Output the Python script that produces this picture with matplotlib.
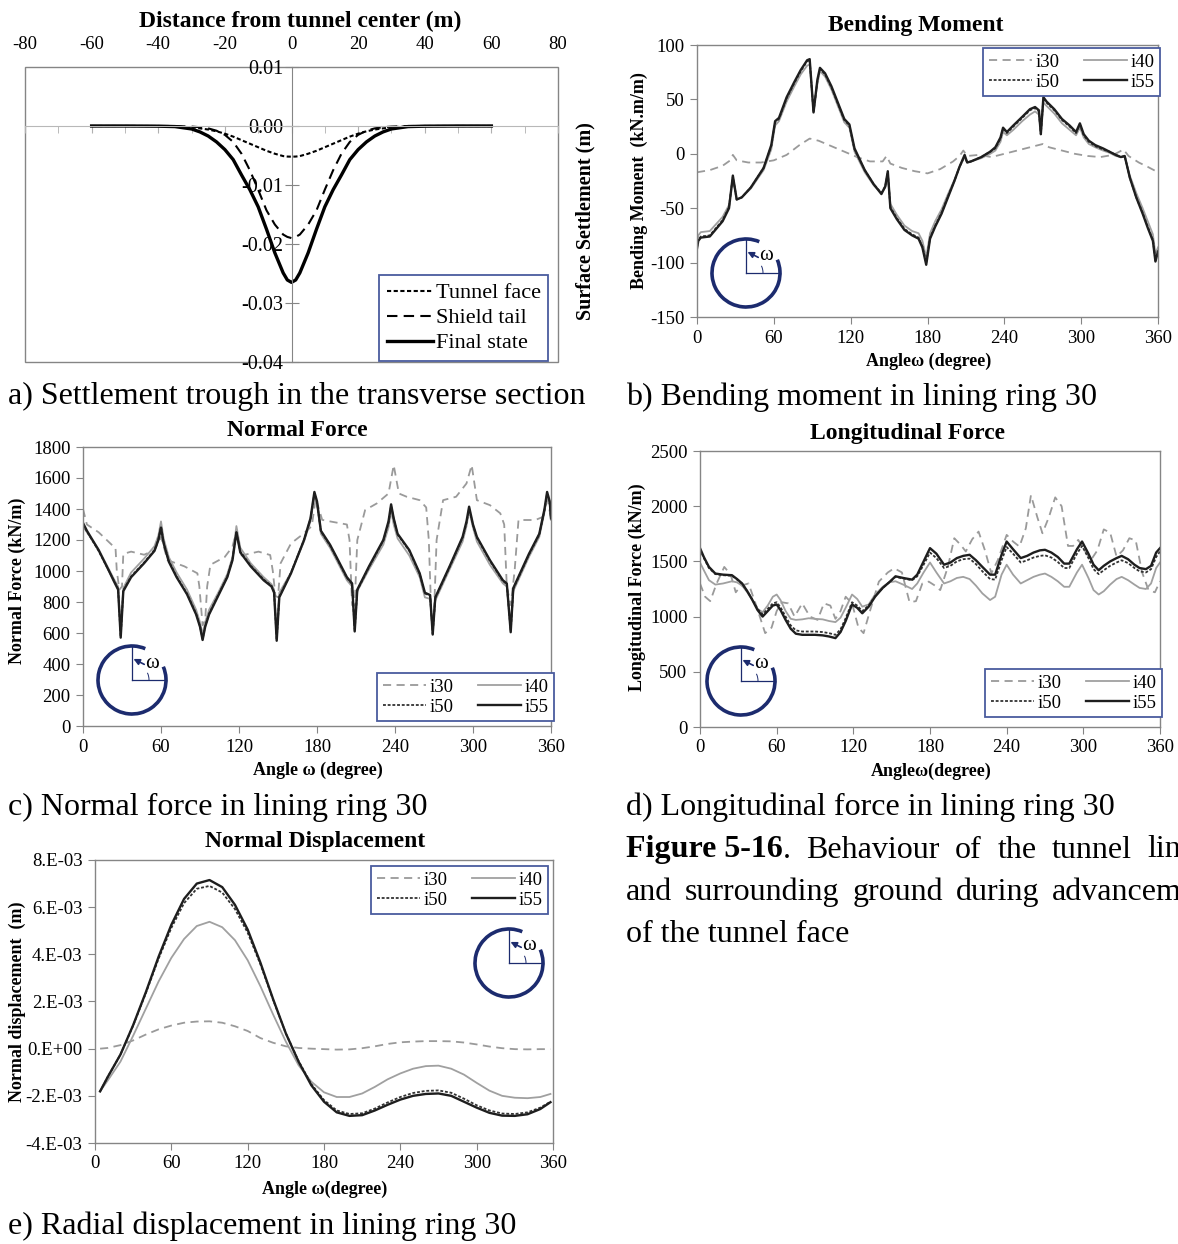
import matplotlib
matplotlib.use('Agg')
import matplotlib.pyplot as plt
from matplotlib.patches import Arc, Rectangle

plt.rcParams['font.family'] = ['Liberation Serif', 'DejaVu Serif']
plt.rcParams['axes.unicode_minus'] = False

# ---------------- data ----------------
# a) settlement trough
dist = [-60, -50, -40, -35, -30, -27.5, -25, -22.5, -20, -17.5, -15, -12.5, -10, -7.5, -5, -2.5, -1.25, 0,
        1.25, 2.5, 5, 7.5, 10, 12.5, 15, 17.5, 20, 22.5, 25, 27.5, 30, 35, 40, 50, 60]
tunnel_face = [0, 0, 0, -0.0001, -0.0002, -0.0004, -0.0006, -0.0009, -0.0013, -0.0018, -0.0024, -0.0030,
               -0.0036, -0.0042, -0.0047, -0.0051, -0.00518, -0.0052, -0.00518, -0.0051, -0.0047, -0.0042,
               -0.0036, -0.0030, -0.0024, -0.0018, -0.0013, -0.0009, -0.0006, -0.0004, -0.0002, -0.0001,
               0, 0, 0]
shield_tail = [0, 0, 0, 0, -0.0001, -0.0002, -0.0004, -0.0008, -0.0015, -0.0027, -0.0047, -0.0075,
               -0.0108, -0.0143, -0.0167, -0.0184, -0.0188, -0.0190, -0.0188, -0.0184, -0.0167, -0.0143,
               -0.0108, -0.0075, -0.0047, -0.0027, -0.0015, -0.0008, -0.0004, -0.0002, -0.0001, 0, 0, 0, 0]
final_state = [0, 0, -0.00003, -0.0001, -0.0005, -0.0010, -0.0017, -0.0027, -0.0040, -0.0057, -0.0083,
               -0.0108, -0.0137, -0.0175, -0.0215, -0.0249, -0.0261, -0.0265, -0.0261, -0.0249, -0.0215,
               -0.0175, -0.0137, -0.0108, -0.0083, -0.0057, -0.0040, -0.0027, -0.0017, -0.0010, -0.0005,
               -0.0001, -0.00003, 0, 0]

# b) bending moment
ang_b = [0, 1, 3, 10, 20, 25, 28, 31, 35, 42, 52, 58, 61, 64, 70, 76, 81, 86, 88, 91, 94, 96, 100, 105,
         110, 115, 119, 123, 131, 138, 144, 147, 149, 151, 156, 162, 168, 173, 176, 179, 182, 186, 191,
         196, 201, 205, 209, 211, 214, 222, 229, 233, 237, 239, 242, 247, 254, 260, 264, 267, 268.5,
         270.5, 273, 279, 285, 291, 296, 299, 302, 306, 311, 317, 322, 327, 331, 334, 338, 343, 348,
         352, 356, 358, 360]
bm_i55 = [-87, -80, -77, -76, -62, -50, -20, -42, -40, -31, -13, 8, 30, 33, 52, 66, 77, 86, 87, 38, 68,
          79, 74, 62, 47, 32, 27, 5, -15, -28, -37, -30, -16, -50, -60, -70, -75, -78, -86, -102, -78,
          -67, -55, -40, -25, -12, -1, -8, -7, -3, 2, 6, 15, 24, 20, 26, 34, 41, 43, 40, 18, 52, 48, 41,
          32, 26, 20, 28, 18, 12, 8, 5, 2, -1, -3, -2, -22, -40, -55, -68, -80, -99, -90]
bm_i50 = [-86, -79, -76, -75, -61, -49, -21, -42, -40, -31, -13, 7, 29, 32, 51, 65, 76, 85, 86, 38, 67,
          78, 73, 61, 46, 31, 26, 4, -15, -28, -36, -30, -17, -49, -59, -69, -74, -77, -85, -100, -77,
          -66, -54, -39, -25, -12, -2, -8, -7, -3, 2, 5, 14, 23, 19, 25, 33, 40, 42, 39, 18, 51, 47, 40,
          31, 25, 19, 27, 17, 11, 7, 4, 2, -1, -3, -2, -22, -40, -54, -67, -79, -98, -89]
bm_i40 = [-82, -75, -72, -71, -58, -47, -22, -42, -40, -32, -15, 4, 26, 30, 48, 62, 73, 81, 82, 40, 64,
          76, 71, 59, 44, 29, 24, 2, -17, -29, -36, -31, -19, -46, -56, -66, -71, -73, -80, -95, -73,
          -62, -51, -37, -24, -12, -3, -8, -7, -4, 0, 3, 11, 20, 17, 22, 30, 36, 39, 36, 20, 47, 44, 37,
          28, 22, 17, 24, 15, 9, 6, 3, 1, -2, -3, -3, -20, -36, -50, -62, -74, -92, -86]
ang_b30 = [0, 10, 20, 26, 28, 31, 40, 50, 60, 70, 80, 88, 95, 105, 115, 125, 135, 145, 148, 151, 160,
           170, 180, 190, 200, 205, 208, 211, 220, 230, 240, 250, 260, 270, 275, 285, 295, 305, 315,
           325, 330, 333, 337, 345, 352, 360]
bm_i30 = [-17, -15, -11, -6, -1, -6, -8, -8, -6, -1, 8, 14, 12, 7, 2, -3, -7, -7, -2, -9, -13, -16, -18,
          -14, -7, -2, 3, -2, -1, -3, 0, 3, 6, 9, 6, 3, 0, -2, -3, -1, 2, 4, -2, -8, -12, -17]

# c) normal force
ang_c = [0, 3, 12, 20, 24, 27, 29, 31, 37, 47, 55, 58, 60, 62, 66, 72, 80, 87, 90, 92, 94, 97, 104,
         111, 115, 118, 121, 129, 139, 145, 147, 149, 151, 160, 170, 175, 178, 180, 183, 190, 195, 203,
         207, 209, 211, 220, 231, 235, 237, 239, 242, 251, 259, 263, 267, 269, 271, 282, 292, 295, 297,
         300, 303, 313, 323, 326, 329, 331, 343, 351, 355, 357, 359, 360]
nf_i55 = [1310, 1260, 1135, 1000, 930, 880, 570, 870, 960, 1050, 1130, 1200, 1280, 1180, 1060, 960, 850,
          720, 640, 555, 640, 720, 840, 960, 1070, 1250, 1120, 1030, 940, 900, 860, 550, 830, 985, 1200,
          1340, 1510, 1450, 1260, 1170, 1090, 960, 920, 610, 880, 1030, 1200, 1320, 1430, 1340, 1240,
          1135, 985, 860, 845, 590, 830, 1030, 1220, 1320, 1415, 1300, 1220, 1070, 940, 920, 605, 890,
          1110, 1240, 1400, 1510, 1450, 1340]
nf_i50 = [1300, 1255, 1130, 1000, 935, 885, 575, 875, 965, 1055, 1135, 1205, 1285, 1185, 1065, 965, 855,
          725, 645, 560, 645, 725, 845, 965, 1075, 1255, 1125, 1035, 945, 905, 865, 555, 835, 990, 1200,
          1335, 1500, 1445, 1255, 1165, 1085, 955, 915, 615, 875, 1025, 1195, 1310, 1420, 1335, 1235,
          1130, 980, 855, 840, 595, 825, 1025, 1215, 1310, 1405, 1295, 1215, 1065, 935, 915, 610, 885,
          1105, 1235, 1390, 1500, 1445, 1335]
nf_i40 = [1290, 1250, 1140, 1010, 945, 900, 620, 890, 990, 1080, 1160, 1230, 1320, 1210, 1090, 990, 880,
          750, 670, 590, 670, 750, 860, 980, 1090, 1290, 1150, 1050, 960, 915, 880, 600, 860, 990, 1190,
          1320, 1480, 1430, 1240, 1150, 1070, 940, 900, 650, 870, 1010, 1170, 1280, 1390, 1300, 1210,
          1100, 960, 830, 820, 620, 810, 1010, 1190, 1290, 1390, 1280, 1190, 1040, 920, 900, 640, 870,
          1090, 1220, 1380, 1490, 1440, 1330]
ang_c30 = [0, 3, 12, 22, 25, 26, 28, 30, 31, 37, 47, 55, 60, 65, 78, 88, 89.5, 92, 94, 95.5, 98, 109,
           115, 118, 122, 135, 144, 146, 148, 150, 152, 160, 170, 176, 179, 184, 190, 203, 205, 207, 209,
           211, 217, 226, 235, 239, 243, 249, 259, 264, 266, 268, 270, 272, 277, 287, 295, 299, 303, 313,
           321, 324, 326, 329, 332, 335, 348, 354, 357, 360]
nf_i30 = [1400, 1300, 1250, 1170, 1150, 1000, 880, 900, 1110, 1125, 1105, 1135, 1220, 1070, 1030, 985,
          900, 650, 680, 900, 1040, 1090, 1157, 1260, 1100, 1125, 1103, 1000, 840, 830, 1050, 1178, 1243,
          1290, 1470, 1330, 1320, 1300, 1200, 780, 780, 1200, 1393, 1436, 1500, 1683, 1500, 1479, 1457,
          1410, 1200, 700, 720, 1200, 1457, 1479, 1565, 1683, 1457, 1425, 1372, 1300, 900, 780, 1000,
          1329, 1329, 1350, 1480, 1340]

# d) longitudinal force
ang_d = [0, 3, 7, 12, 18, 25, 29, 33, 37, 41, 45, 49, 53, 57, 60, 63, 67, 71, 75, 80, 85, 90, 96, 101,
         106, 110, 114, 119, 123, 127, 132, 137, 143, 148, 153, 159, 166, 170, 175, 180, 185, 191, 196,
         201, 206, 211, 216, 221, 227, 231, 236, 240, 245, 251, 256, 261, 266, 270, 275, 280, 285, 289,
         295, 299, 304, 308, 312, 316, 321, 326, 330, 335, 340, 344, 349, 353, 357, 360]
lf_i55 = [1620, 1540, 1450, 1390, 1380, 1375, 1340, 1300, 1230, 1150, 1060, 1000, 1050, 1100, 1110,
          1060, 970, 890, 845, 835, 835, 835, 830, 820, 805, 860, 960, 1110, 1080, 1030, 1090, 1180,
          1260, 1310, 1365, 1350, 1335, 1380, 1500, 1620, 1570, 1470, 1490, 1530, 1550, 1560, 1510,
          1450, 1380, 1380, 1560, 1680, 1610, 1530, 1550, 1580, 1600, 1605, 1580, 1540, 1480, 1480,
          1610, 1680, 1570, 1470, 1420, 1460, 1500, 1530, 1550, 1520, 1470, 1440, 1430, 1460, 1580, 1620]
lf_i50 = [1610, 1530, 1440, 1385, 1375, 1370, 1335, 1295, 1230, 1155, 1070, 1020, 1070, 1120, 1130,
          1085, 1000, 920, 875, 865, 865, 865, 860, 850, 835, 885, 985, 1130, 1100, 1050, 1100, 1185,
          1260, 1310, 1360, 1345, 1330, 1365, 1470, 1580, 1530, 1440, 1460, 1500, 1520, 1525, 1475,
          1410, 1340, 1335, 1510, 1630, 1570, 1490, 1510, 1535, 1550, 1555, 1535, 1495, 1440, 1440,
          1570, 1640, 1530, 1430, 1385, 1420, 1460, 1490, 1510, 1485, 1440, 1410, 1400, 1430, 1540, 1590]
lf_i40 = [1490, 1420, 1330, 1290, 1300, 1320, 1310, 1280, 1220, 1150, 1070, 1040, 1100, 1180, 1200,
          1150, 1050, 980, 970, 975, 985, 980, 975, 960, 950, 990, 1080, 1200, 1160, 1090, 1110, 1200,
          1270, 1310, 1320, 1290, 1250, 1300, 1400, 1490, 1400, 1300, 1320, 1350, 1360, 1340, 1280,
          1210, 1150, 1180, 1380, 1470, 1380, 1300, 1330, 1360, 1380, 1390, 1360, 1320, 1270, 1270,
          1400, 1470, 1350, 1240, 1200, 1230, 1290, 1340, 1360, 1330, 1290, 1260, 1250, 1300, 1440, 1490]
ang_d30 = [0, 4, 8, 13, 19, 24, 28, 32, 38, 44, 51, 56, 60, 64, 69, 74, 80, 86, 92, 97, 102, 106, 110,
           114, 119, 124, 128, 133, 140, 147, 152, 158, 164, 169, 174, 179, 184, 188, 194, 199, 204, 208,
           213, 218, 223, 228, 233, 240, 245, 250, 255, 259, 264, 268, 273, 278, 283, 288, 292, 296, 301,
           306, 311, 316, 321, 326, 331, 336, 341, 346, 351, 356, 360]
lf_i30 = [1300, 1180, 1140, 1300, 1450, 1380, 1220, 1280, 1300, 1100, 850, 900, 1050, 1130, 1120, 1000,
          1120, 1000, 970, 1120, 1100, 980, 1050, 1180, 1120, 900, 850, 1050, 1317, 1400, 1438, 1400,
          1130, 1140, 1300, 1317, 1280, 1240, 1450, 1710, 1650, 1590, 1700, 1770, 1600, 1393, 1510,
          1740, 1680, 1634, 1800, 2100, 1900, 1755, 1900, 2080, 2000, 1640, 1640, 1695, 1600, 1514,
          1600, 1790, 1760, 1544, 1600, 1710, 1690, 1400, 1240, 1220, 1320]

# e) normal displacement, in units of 1e-3 m
ang_e = [4, 10, 20, 30, 40, 50, 60, 70, 80, 90, 100, 110, 120, 130, 140, 150, 160, 170, 180, 190, 200,
         210, 220, 230, 240, 250, 260, 270, 280, 290, 300, 310, 320, 330, 340, 350, 358]
nd_i55 = [-1.81, -1.20, -0.25, 1.00, 2.40, 3.90, 5.25, 6.35, 7.00, 7.15, 6.85, 6.10, 5.05, 3.65, 2.10,
          0.65, -0.55, -1.55, -2.25, -2.70, -2.85, -2.82, -2.62, -2.38, -2.16, -2.00, -1.92, -1.90,
          -2.00, -2.25, -2.50, -2.72, -2.84, -2.85, -2.78, -2.56, -2.27]
nd_i50 = [-1.81, -1.20, -0.25, 0.98, 2.36, 3.82, 5.12, 6.17, 6.78, 6.90, 6.62, 5.92, 4.92, 3.58, 2.07,
          0.65, -0.52, -1.50, -2.18, -2.62, -2.77, -2.74, -2.54, -2.28, -2.05, -1.88, -1.79, -1.77,
          -1.87, -2.12, -2.40, -2.62, -2.75, -2.77, -2.70, -2.50, -2.25]
nd_i40 = [-1.81, -1.35, -0.55, 0.55, 1.70, 2.85, 3.85, 4.65, 5.20, 5.38, 5.15, 4.60, 3.75, 2.65, 1.45,
          0.30, -0.70, -1.40, -1.85, -2.05, -2.05, -1.90, -1.62, -1.30, -1.05, -0.85, -0.74, -0.72,
          -0.85, -1.10, -1.45, -1.78, -2.00, -2.08, -2.10, -2.05, -1.92]
nd_i30 = [0.00, 0.03, 0.15, 0.35, 0.60, 0.82, 0.98, 1.10, 1.15, 1.16, 1.10, 0.95, 0.75, 0.45, 0.25, 0.10,
          0.03, 0.00, -0.02, -0.04, -0.03, 0.02, 0.10, 0.20, 0.27, 0.30, 0.32, 0.32, 0.31, 0.26, 0.18,
          0.09, 0.02, -0.02, -0.03, -0.02, -0.02]
nd_ticks = [-4, -2, 0, 2, 4, 6, 8]
nd_ticklabels = ['-4.E-03', '-2.E-03', '0.E+00', '2.E-03', '4.E-03', '6.E-03', '8.E-03']

# ---------------- figure ----------------
W, H = 1178, 1244
fig = plt.figure(figsize=(W / 100, H / 100), dpi=100)

GRAY_AX = '#858585'
NAVY = '#1c2b6e'
LEG_EDGE = '#4a5c9e'

STY = {
    'i30': dict(color='#9a9a9a', lw=1.3, dashes=(4.5, 3)),
    'i40': dict(color='#a0a0a0', lw=1.3),
    'i50': dict(color='#333333', lw=1.3, dashes=(1.6, 1.0)),
    'i55': dict(color='#1e1e1e', lw=1.7),
}


def rect(x0, y0, x1, y1):
    # pixel box (top-left origin) -> figure fraction
    return [x0 / W, 1 - y1 / H, (x1 - x0) / W, (y1 - y0) / H]


def put(x, y, s, **kw):
    kw.setdefault('ha', 'center')
    kw.setdefault('va', 'center')
    return fig.text(x / W, 1 - y / H, s, **kw)


def angle_axes(box, ylim, yticks, ylabels=None):
    ax = fig.add_axes(rect(*box))
    ax.set_xlim(0, 360)
    ax.set_ylim(*ylim)
    ax.set_xticks(range(0, 361, 60))
    ax.set_yticks(yticks)
    if ylabels:
        ax.set_yticklabels(ylabels)
    for sp in ax.spines.values():
        sp.set_color(GRAY_AX)
        sp.set_linewidth(1.0)
    ax.tick_params(direction='out', length=5, color=GRAY_AX, labelsize=13.5, pad=4)
    return ax


def plot_series(ax, data):
    lines = {}
    for key in ['i30', 'i40', 'i50', 'i55']:
        x, y = data[key]
        lines[key], = ax.plot(x, y, **STY[key])
    return lines


def add_legend(ax, lines, x0, y0):
    leg = ax.legend([lines['i30'], lines['i50'], lines['i40'], lines['i55']],
                    ['i30', 'i50', 'i40', 'i55'], ncol=2, loc='upper left',
                    bbox_to_anchor=(x0 / W, 1 - y0 / H), bbox_transform=fig.transFigure,
                    borderaxespad=0, fancybox=False, framealpha=1, fontsize=13.5,
                    handlelength=2.3, handletextpad=0.2, columnspacing=1.3,
                    borderpad=0.3, labelspacing=0.15)
    leg.get_frame().set_edgecolor(LEG_EDGE)
    leg.get_frame().set_linewidth(1.3)


def ring(cx, cy, r=34):
    # little sketch of the lining ring with the angle omega
    pad = 12
    ax = fig.add_axes(rect(cx - r - pad, cy - r - pad, cx + r + pad, cy + r + pad))
    ax.set_xlim(-r - pad, r + pad)
    ax.set_ylim(-r - pad, r + pad)
    ax.axis('off')
    ax.patch.set_alpha(0)
    ax.add_patch(Arc((0, 0), 2 * r, 2 * r, theta1=67, theta2=383, color=NAVY, lw=2.6))
    ax.plot([0, 0], [0, r], color=NAVY, lw=0.9)
    ax.plot([0, r], [0, 0], color=NAVY, lw=0.9)
    ax.add_patch(Arc((0, 0), 1.0 * r, 1.0 * r, theta1=0, theta2=25, color=NAVY, lw=0.7))
    ax.annotate('', xy=(1.5, 0.62 * r), xytext=(0.36 * r, 0.46 * r),
                arrowprops=dict(arrowstyle='-|>', color=NAVY, lw=1.2, mutation_scale=9,
                                shrinkA=0, shrinkB=0))
    ax.text(0.6 * r, 0.5 * r, 'ω', fontsize=15, ha='center', va='center')


# ---- a) settlement trough ----
ax = fig.add_axes(rect(25, 67, 558, 362))
ax.set_xlim(-80, 80)
ax.set_ylim(-0.04, 0.01)
l_face, = ax.plot(dist, tunnel_face, color='black', lw=1.5, dashes=(2, 1.2))
l_tail, = ax.plot(dist, shield_tail, color='black', lw=1.5, dashes=(5, 3))
l_final, = ax.plot(dist, final_state, color='black', lw=2.4)
ax.spines['top'].set_visible(False)
ax.spines['right'].set_visible(False)
ax.spines['left'].set_position(('data', 0))
ax.spines['left'].set_color(GRAY_AX)
ax.spines['bottom'].set_position(('data', 0))
ax.spines['bottom'].set_color('#b8b8b8')
ax.add_patch(Rectangle((0, 0), 1, 1, transform=ax.transAxes, fill=False, ec=GRAY_AX,
                       lw=1.0, clip_on=False))
ax.set_xticks(range(-80, 81, 20))
ax.set_xticks(range(-70, 80, 20), minor=True)
ax.tick_params(axis='x', which='both', bottom=True, top=False, labelbottom=False, labeltop=True,
               direction='out', length=5, color='#b0b0b0', labelsize=13.5, pad=5)
ax.set_yticks([-0.04, -0.03, -0.02, -0.01, 0.0, 0.01])
ax.set_yticklabels(['-0.04', '-0.03', '-0.02', '-0.01', '0.00', '0.01'])
ax.tick_params(axis='y', direction='inout', length=10, color=GRAY_AX, labelsize=14.5, pad=1)
leg = ax.legend([l_face, l_tail, l_final], ['Tunnel face', 'Shield tail', 'Final state'],
                loc='upper left', bbox_to_anchor=(379 / W, 1 - 275 / H),
                bbox_transform=fig.transFigure, borderaxespad=0, fancybox=False, framealpha=1,
                fontsize=16, handlelength=2.1, handletextpad=0.1, labelspacing=0.2, borderpad=0.35)
leg.get_frame().set_edgecolor(LEG_EDGE)
leg.get_frame().set_linewidth(1.3)
put(300, 21, 'Distance from tunnel center (m)', fontsize=17, fontweight='bold')
put(585, 221, 'Surface Settlement (m)', fontsize=14.5, fontweight='bold', rotation=90)

# ---- b) bending moment ----
ax = angle_axes((697, 45, 1158, 317), (-150, 100), range(-150, 101, 50))
lines = plot_series(ax, {'i30': (ang_b30, bm_i30), 'i40': (ang_b, bm_i40),
                         'i50': (ang_b, bm_i50), 'i55': (ang_b, bm_i55)})
add_legend(ax, lines, 983, 48)
put(916, 26, 'Bending Moment', fontsize=17, fontweight='bold')
put(929, 361, 'Angleω (degree)', fontsize=13, fontweight='bold')
put(639, 181, 'Bending Moment  (kN.m/m)', fontsize=13, fontweight='bold', rotation=90)
ring(746, 273)

# ---- c) normal force ----
ax = angle_axes((83, 447, 551, 726), (0, 1800), range(0, 1801, 200))
lines = plot_series(ax, {'i30': (ang_c30, nf_i30), 'i40': (ang_c, nf_i40),
                         'i50': (ang_c, nf_i50), 'i55': (ang_c, nf_i55)})
add_legend(ax, lines, 377, 673)
put(297, 430, 'Normal Force', fontsize=17, fontweight='bold')
put(318, 770, 'Angle ω (degree)', fontsize=13, fontweight='bold')
put(17, 581, 'Normal Force (kN/m)', fontsize=13, fontweight='bold', rotation=90)
ring(132, 680)

# ---- d) longitudinal force ----
ax = angle_axes((700, 451, 1160, 727), (0, 2500), range(0, 2501, 500))
lines = plot_series(ax, {'i30': (ang_d30, lf_i30), 'i40': (ang_d, lf_i40),
                         'i50': (ang_d, lf_i50), 'i55': (ang_d, lf_i55)})
add_legend(ax, lines, 985, 669)
put(908, 434, 'Longitudinal Force', fontsize=17, fontweight='bold')
put(931, 771, 'Angleω(degree)', fontsize=13, fontweight='bold')
put(637, 587, 'Longitudinal Force (kN/m)', fontsize=13, fontweight='bold', rotation=90)
ring(741, 681)

# ---- e) normal displacement ----
ax = angle_axes((95, 860, 553, 1143), (-4, 8), nd_ticks, nd_ticklabels)
lines = plot_series(ax, {'i30': (ang_e, nd_i30), 'i40': (ang_e, nd_i40),
                         'i50': (ang_e, nd_i50), 'i55': (ang_e, nd_i55)})
add_legend(ax, lines, 371, 866)
put(315, 842, 'Normal Displacement', fontsize=17, fontweight='bold')
put(325, 1189, 'Angle ω(degree)', fontsize=13, fontweight='bold')
put(17, 1002, 'Normal displacement  (m)', fontsize=13, fontweight='bold', rotation=90)
ring(509, 963)

# ---- sub-captions ----
CAP = 23
put(8, 396, 'a) Settlement trough in the transverse section', fontsize=CAP, ha='left')
put(626, 397, 'b) Bending moment in lining ring 30', fontsize=CAP, ha='left')
put(8, 807, 'c) Normal force in lining ring 30', fontsize=CAP, ha='left')
put(626, 807, 'd) Longitudinal force in lining ring 30', fontsize=CAP, ha='left')
put(8, 1226, 'e) Radial displacement in lining ring 30', fontsize=CAP, ha='left')

# figure caption, justified like the page (runs off the right edge)
renderer = fig.canvas.get_renderer()


def word_line(y, words, x=626):
    for word, weight, gap in words:
        t = put(x, y, word, fontsize=CAP, ha='left', fontweight=weight)
        x += t.get_window_extent(renderer).width + gap


word_line(850, [('Figure 5-16', 'bold', 0), ('.', 'normal', 15.5), ('Behaviour', 'normal', 15.5),
                ('of', 'normal', 15.5), ('the', 'normal', 15.5), ('tunnel', 'normal', 15.5),
                ('lining', 'normal', 0)])
word_line(892, [('and', 'normal', 12.7), ('surrounding', 'normal', 12.7), ('ground', 'normal', 12.7),
                ('during', 'normal', 12.7), ('advancement', 'normal', 0)])
word_line(935, [('of the tunnel face', 'normal', 0)])

fig.savefig('out.png', dpi=100)
